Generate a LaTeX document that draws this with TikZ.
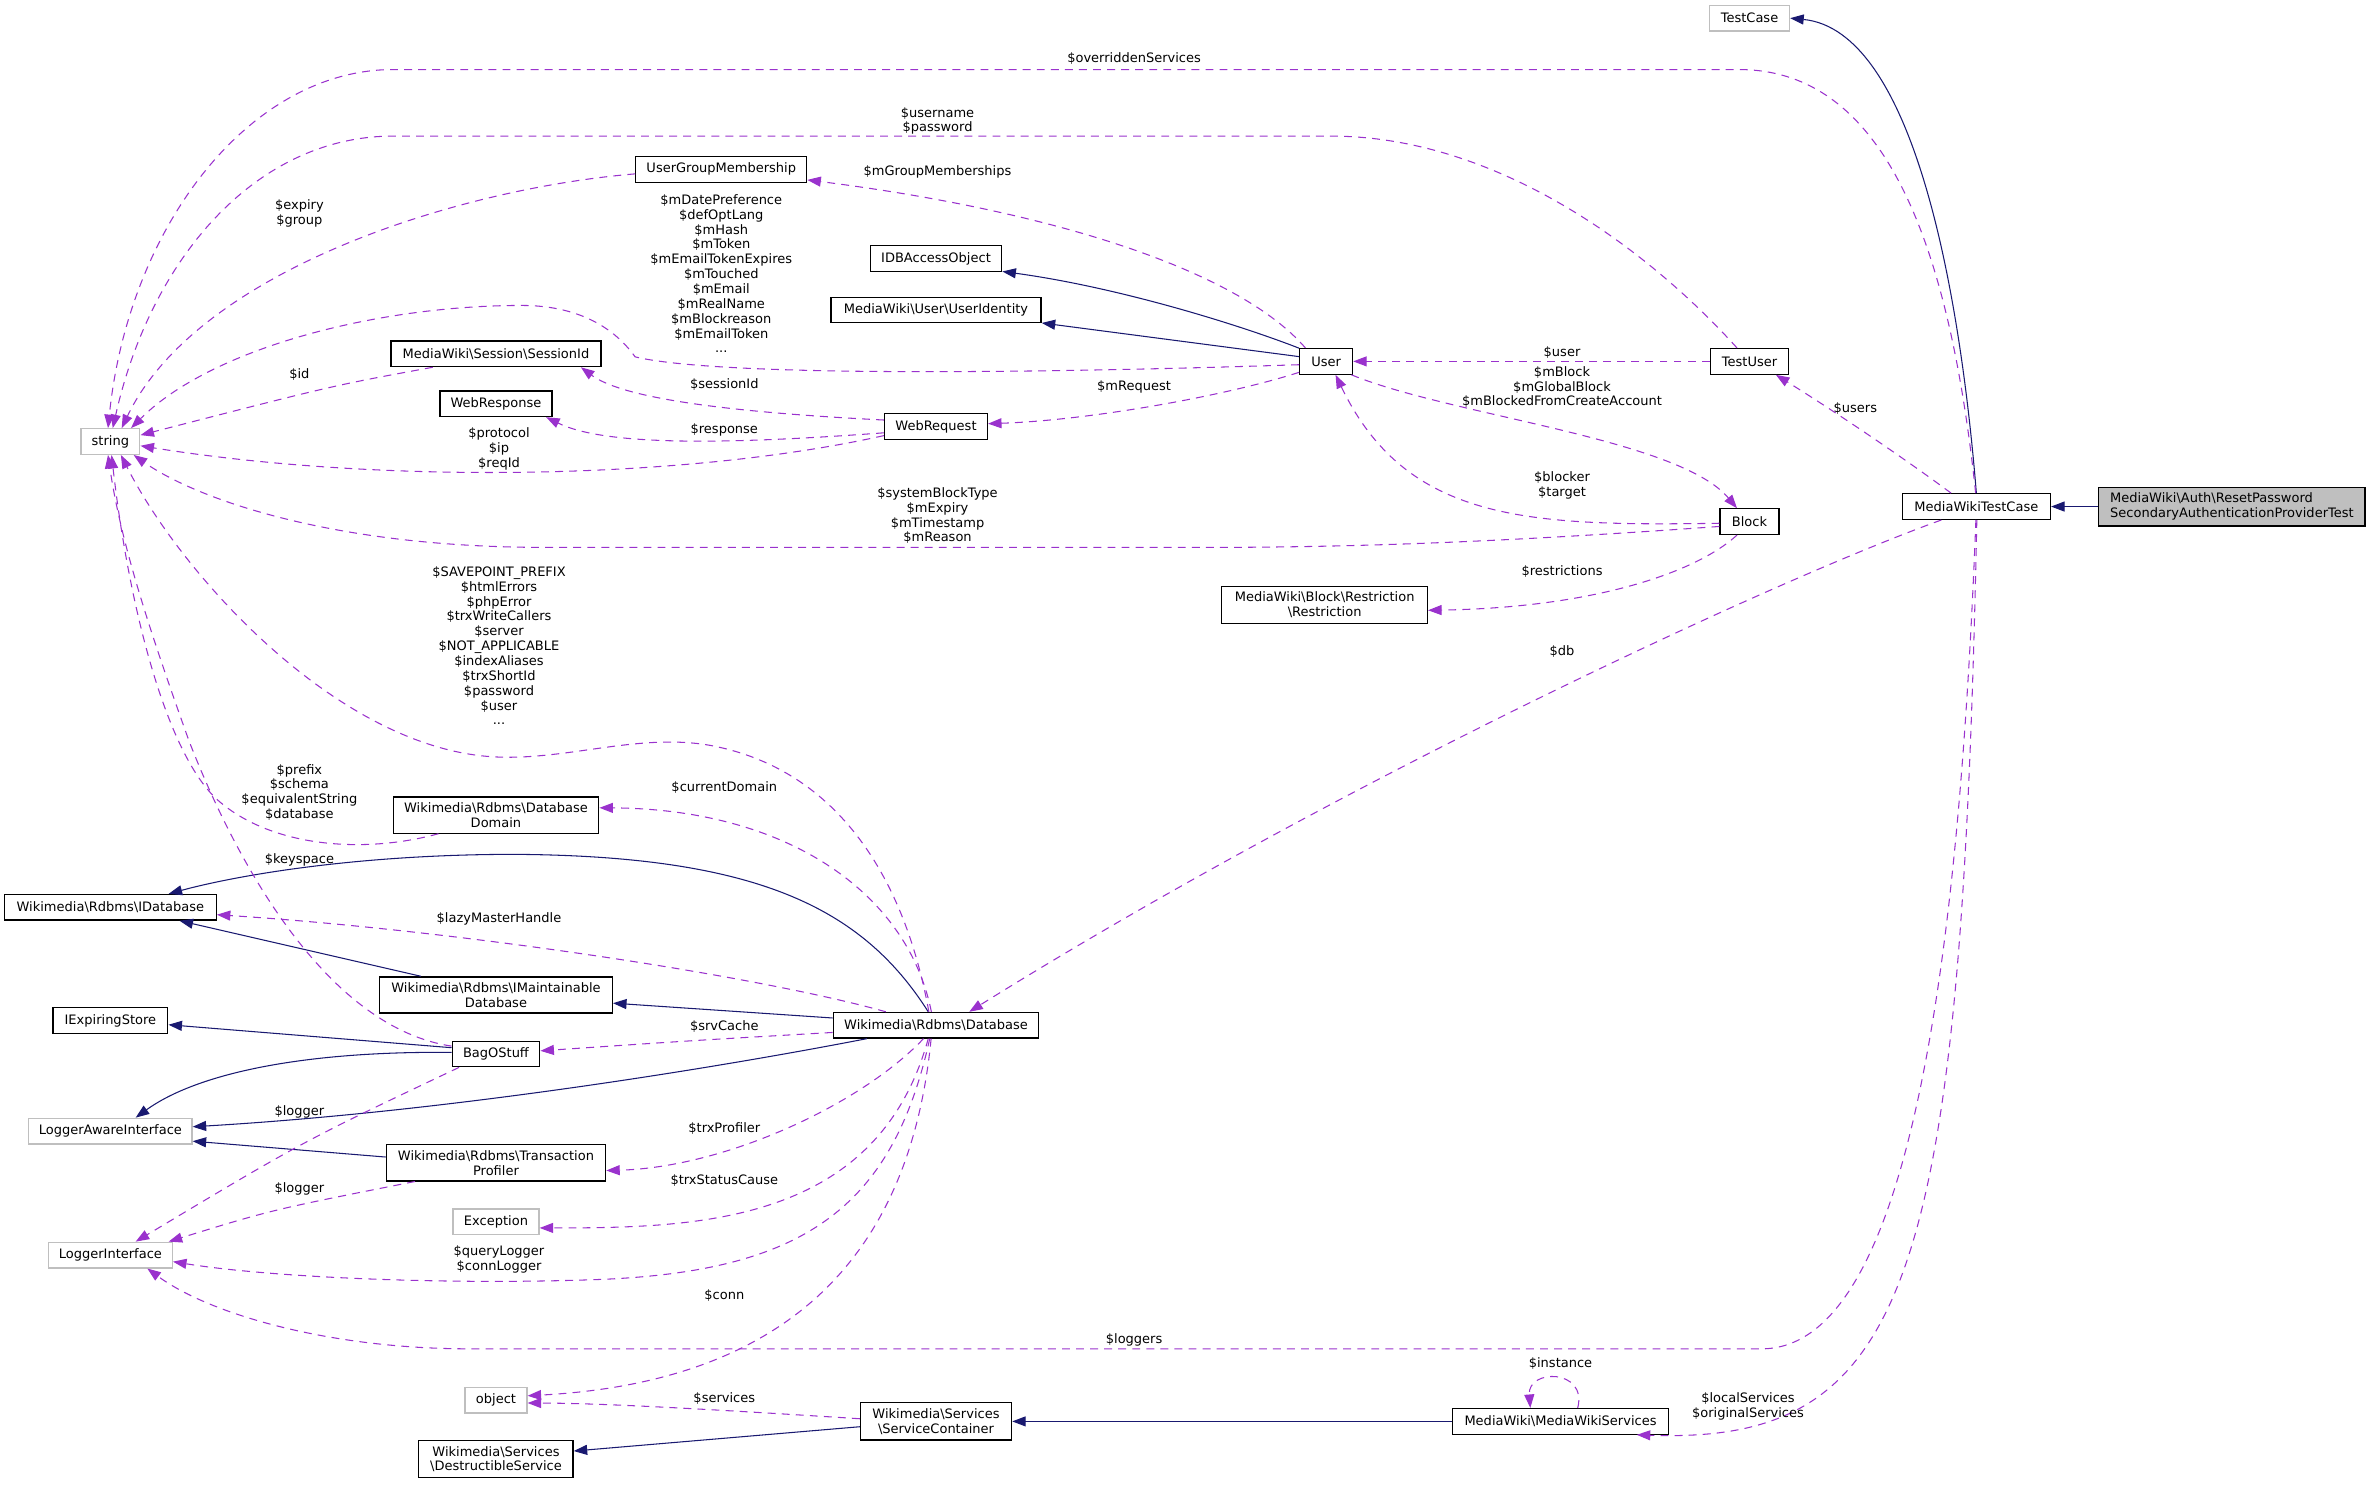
\documentclass[tikz,border=0pt]{standalone}
\usepackage{fontspec}
\setmainfont{DejaVu Sans}
\usepackage{tikz}
\usetikzlibrary{arrows.meta}
\definecolor{inhblue}{HTML}{191970}
\definecolor{usepurple}{HTML}{9A32CD}
\definecolor{extgray}{HTML}{BFBFBF}
\newcommand{\bsl}{\textbackslash}
\tikzset{
  cls/.style={draw=black,line width=0.7pt,fill=white,align=center,
    font=\fontsize{7.4}{8.45}\selectfont,inner xsep=3pt,inner ysep=3.2pt,
    minimum height=14.6pt,minimum width=#1*0.3024mm},
  extcls/.style={cls=#1,draw=extgray},
  maincls/.style={cls=#1,fill=extgray,align=left},
  lbl/.style={align=center,inner sep=0pt,font=\fontsize{7.4}{8.45}\selectfont},
  inh/.style={draw=inhblue,line width=0.6pt,-{Triangle[length=2.7mm,width=2mm]}},
  use/.style={draw=usepurple,line width=0.6pt,dash pattern=on 4.5pt off 3.5pt,
    -{Triangle[length=2.7mm,width=2mm,fill=usepurple]}}
}
\begin{document}
\begin{tikzpicture}[x=0.3024mm,y=-0.3024mm]
\useasboundingbox (0,0) rectangle (1568,982);
% classes
\node[maincls=176] (main) at (1476,335) {MediaWiki\bsl Auth\bsl ResetPassword\\SecondaryAuthenticationProviderTest};
\node[cls=98] (mwtc) at (1307,335) {MediaWikiTestCase};
\node[extcls=53] (testcase) at (1157,12) {TestCase};
\node[cls=52] (testuser) at (1157,239) {TestUser};
\node[cls=39] (block) at (1157,345) {Block};
\node[cls=35] (user) at (877,239) {User};
\node[cls=136] (restr) at (876,400) {MediaWiki\bsl Block\bsl Restriction\\\bsl Restriction};
\node[cls=143] (mws) at (1032,940) {MediaWiki\bsl MediaWikiServices};
\node[cls=87] (idbao) at (619,171) {IDBAccessObject};
\node[cls=139] (uident) at (619,205) {MediaWiki\bsl User\bsl UserIdentity};
\node[cls=68] (wreq) at (619,282) {WebRequest};
\node[cls=136] (database) at (619,678) {Wikimedia\bsl Rdbms\bsl Database};
\node[cls=100] (sc) at (619,940) {Wikimedia\bsl Services\\\bsl ServiceContainer};
\node[cls=113] (ugm) at (477,112) {UserGroupMembership};
\node[cls=139] (sessid) at (328,234) {MediaWiki\bsl Session\bsl SessionId};
\node[cls=74] (wresp) at (328,267) {WebResponse};
\node[cls=136] (dbdomain) at (328,539) {Wikimedia\bsl Rdbms\bsl Database\\Domain};
\node[cls=154] (imaint) at (328,658) {Wikimedia\bsl Rdbms\bsl IMaintainable\\Database};
\node[cls=58] (bagostuff) at (328,697) {BagOStuff};
\node[cls=145] (tp) at (328,769) {Wikimedia\bsl Rdbms\bsl Transaction\\Profiler};
\node[extcls=57] (exception) at (328,808) {Exception};
\node[extcls=41] (object) at (328,926) {object};
\node[cls=102] (ds) at (328,965) {Wikimedia\bsl Services\\\bsl DestructibleService};
\node[extcls=39] (string) at (73,292) {string};
\node[cls=140] (idatabase) at (73,600) {Wikimedia\bsl Rdbms\bsl IDatabase};
\node[cls=76] (iexp) at (73,675) {IExpiringStore};
\node[extcls=108] (lai) at (73,748) {LoggerAwareInterface};
\node[extcls=82] (li) at (73,830) {LoggerInterface};

% inheritance
\draw[inh] (main.west) -- (mwtc.east);
\draw[inh] (mwtc.north) .. controls (1296,190) and (1265,20) .. (testcase.east);
\draw[inh] (user.154) .. controls (820,215) and (740,190) .. (idbao.-11);
\draw[inh] (user.170) -- (uident.-7);
\draw[inh] (database.120) .. controls (570,600) and (500,566) .. (340,565) .. controls (240,565) and (160,578) .. (idatabase.13);
\draw[inh] (imaint.166) -- (idatabase.-11);
\draw[inh] (database.176) -- (imaint.-4);
\draw[inh] (bagostuff.172) -- (iexp.-4);
\draw[inh] (bagostuff.178) .. controls (200,695) and (130,710) .. (lai.28);
\draw[inh] (database.-169) .. controls (480,705) and (300,735) .. (lai.3);
\draw[inh] (tp.177) -- (lai.-7);
\draw[inh] (sc.184) -- (ds.6);
\draw[inh] (mws.west) -- (sc.east);

% members
\draw[use] (mwtc.93) .. controls (1290,170) and (1250,46) .. (1150,46) -- (260,46) .. controls (165,46) and (85,150) .. (string.100);
\draw[use] (mwtc.152) .. controls (1255,300) and (1210,270) .. (testuser.-27);
\draw[use] (mwtc.-159) .. controls (1170,385) and (880,520) .. (database.22);
\draw[use] (mwtc.-92) .. controls (1295,650) and (1260,892) .. (1165,892) -- (310,892) .. controls (220,892) and (140,870) .. (li.-20);
\draw[use] (mwtc.-88) .. controls (1297,850) and (1262,955) .. (mws.-10);
\draw[use] (testuser.west) -- (user.east);
\draw[use] (testuser.133) .. controls (1090,165) and (990,90) .. (880,90) -- (260,90) .. controls (170,90) and (100,170) .. (string.80);
\draw[use] (user.147) .. controls (820,180) and (700,140) .. (ugm.-7);
\draw[use] (user.187) .. controls (650,248) and (470,248) .. (420,236) .. controls (405,215) and (380,202) .. (345,202) .. controls (250,202) and (140,230) .. (string.33);
\draw[use] (user.202) .. controls (810,262) and (720,278) .. (wreq.3);
\draw[use] (user.-28) .. controls (960,275) and (1110,290) .. (block.133);
\draw[use] (block.183) .. controls (1010,348) and (930,345) .. (user.-55);
\draw[use] (block.189) .. controls (1000,358) and (900,362) .. (800,362) -- (360,362) .. controls (220,362) and (130,330) .. (string.-30);
\draw[use] (block.-133) .. controls (1120,380) and (1050,402) .. (restr.-3);
\draw[use] (ugm.183) .. controls (300,125) and (130,180) .. (string.50);
\draw[use] (sessid.-168) .. controls (220,255) .. (string.12);
\draw[use] (wreq.173) .. controls (470,272) and (410,262) .. (sessid.-9);
\draw[use] (wreq.187) .. controls (480,294) and (400,295) .. (wresp.-15);
\draw[use] (wreq.190) .. controls (450,318) and (250,320) .. (string.-8);
\draw[use] (database.118) .. controls (600,590) and (560,510) .. (470,493) .. controls (420,484) and (370,505) .. (320,500) .. controls (220,490) and (120,380) .. (string.-52);
\draw[use] (dbdomain.-162) .. controls (240,565) and (180,560) .. (145,530) .. controls (110,500) and (85,400) .. (string.-85);
\draw[use] (database.109) .. controls (600,590) and (520,535) .. (dbdomain.4);
\draw[use] (database.165) .. controls (500,645) and (300,615) .. (idatabase.-4);
\draw[use] (database.184) .. controls (460,688) .. (bagostuff.4);
\draw[use] (database.-133) .. controls (570,730) and (480,772) .. (tp.-4);
\draw[use] (database.-120) .. controls (580,810) and (460,812) .. (exception.-8);
\draw[use] (database.-115) .. controls (590,800) and (530,840) .. (400,846) .. controls (300,850) and (180,845) .. (li.-6);
\draw[use] (database.-110) .. controls (600,850) and (500,915) .. (object.8);
\draw[use] (bagostuff.170) .. controls (220,680) and (160,580) .. (125,490) .. controls (100,420) and (80,360) .. (string.-100);
\draw[use] (bagostuff.-160) .. controls (200,755) .. (li.28);
\draw[use] (tp.-167) .. controls (180,800) .. (li.13);
\draw[use] (sc.178) .. controls (470,932) and (400,928) .. (object.-5);
\draw[use] (mws.38) .. controls (1050,905) and (1010,905) .. (mws.156);

% labels
\node[lbl] (l-over) at (750,39) {\$overriddenServices};
\node[lbl] (l-userpass) at (620,80) {\$username\\\$password};
\node[lbl] (l-groups) at (620,114) {\$mGroupMemberships};
\node[lbl] (l-expiry) at (198,141) {\$expiry\\\$group};
\node[lbl] (l-userfields) at (477,181) {\$mDatePreference\\\$defOptLang\\\$mHash\\\$mToken\\\$mEmailTokenExpires\\\$mTouched\\\$mEmail\\\$mRealName\\\$mBlockreason\\\$mEmailToken\\...};
\node[lbl] (l-user) at (1033,233) {\$user};
\node[lbl] (l-id) at (198,248) {\$id};
\node[lbl] (l-sessid) at (479,254) {\$sessionId};
\node[lbl] (l-request) at (750,256) {\$mRequest};
\node[lbl] (l-blockfields) at (1033,256) {\$mBlock\\\$mGlobalBlock\\\$mBlockedFromCreateAccount};
\node[lbl] (l-users) at (1227,270) {\$users};
\node[lbl] (l-response) at (479,284) {\$response};
\node[lbl] (l-protocol) at (330,297) {\$protocol\\\$ip\\\$reqId};
\node[lbl] (l-blocker) at (1033,321) {\$blocker\\\$target};
\node[lbl] (l-blocktype) at (620,341) {\$systemBlockType\\\$mExpiry\\\$mTimestamp\\\$mReason};
\node[lbl] (l-restr) at (1033,378) {\$restrictions};
\node[lbl] (l-dbfields) at (330,427) {\$SAVEPOINT\_PREFIX\\\$htmlErrors\\\$phpError\\\$trxWriteCallers\\\$server\\\$NOT\_APPLICABLE\\\$indexAliases\\\$trxShortId\\\$password\\\$user\\...};
\node[lbl] (l-db) at (1033,431) {\$db};
\node[lbl] (l-prefix) at (198,524) {\$prefix\\\$schema\\\$equivalentString\\\$database};
\node[lbl] (l-domain) at (479,521) {\$currentDomain};
\node[lbl] (l-keyspace) at (198,569) {\$keyspace};
\node[lbl] (l-lazy) at (330,608) {\$lazyMasterHandle};
\node[lbl] (l-cache) at (479,679) {\$srvCache};
\node[lbl] (l-logger1) at (198,735) {\$logger};
\node[lbl] (l-profiler) at (479,746) {\$trxProfiler};
\node[lbl] (l-status) at (479,781) {\$trxStatusCause};
\node[lbl] (l-logger2) at (198,786) {\$logger};
\node[lbl] (l-qlogger) at (330,833) {\$queryLogger\\\$connLogger};
\node[lbl] (l-conn) at (479,857) {\$conn};
\node[lbl] (l-loggers) at (750,886) {\$loggers};
\node[lbl] (l-instance) at (1032,902) {\$instance};
\node[lbl] (l-services) at (479,925) {\$services};
\node[lbl] (l-local) at (1156,930) {\$localServices\\\$originalServices};
\end{tikzpicture}
\end{document}
